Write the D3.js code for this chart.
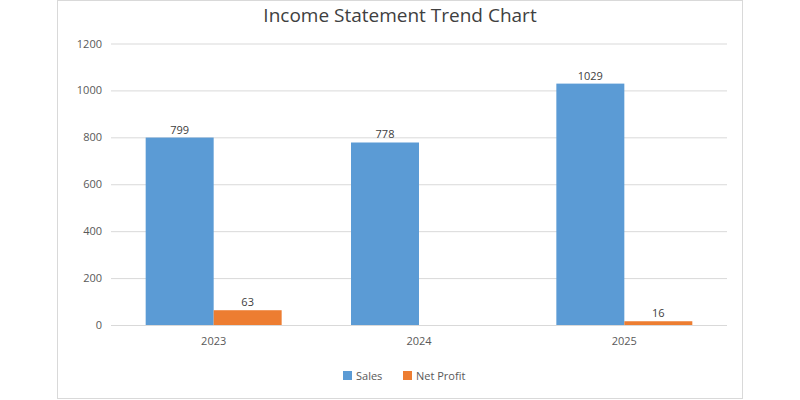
<!DOCTYPE html>
<html><head><meta charset="utf-8">
<script src="https://cdn.jsdelivr.net/npm/d3@7"></script>
<style>body{margin:0;background:#fff}svg{display:block}text{font-family:"Open Sans","DejaVu Sans",sans-serif}</style>
</head><body><svg id="c" width="800" height="400"></svg>
<script>
const categories = ["2023", "2024", "2025"];
const seriesNames = ["Sales", "Net Profit"];
const sales = [799, 778, 1029];
const netProfit = [63, null, 16];
const yTicks = [0, 200, 400, 600, 800, 1000, 1200];
const colors = ["#5B9BD5", "#ED7D31"];

const svg = d3.select("#c");
svg.append("rect").attr("x", 57.5).attr("y", 0.5).attr("width", 685).attr("height", 398)
  .attr("fill", "#fff").attr("stroke", "#d9d9d9");

const x0 = 111, x1 = 727, yb = 325, yt = 43.5;
const x = d3.scaleBand().domain(categories).range([x0, x1]).paddingInner(0).paddingOuter(0);
const xs = d3.scaleBand().domain(seriesNames).range([0, x.bandwidth()]).paddingOuter(0.51).paddingInner(0);
const y = d3.scaleLinear().domain([0, 1200]).range([yb, yt]);

const yAxis = d3.axisLeft(y).tickValues(yTicks).tickFormat(d3.format("d")).tickSize(-(x1 - x0)).tickPadding(9);
const g = svg.append("g").attr("transform", `translate(${x0},0)`).call(yAxis);
g.select(".domain").remove();
g.selectAll(".tick line").attr("stroke", "#d9d9d9").attr("stroke-width", 1);
g.selectAll(".tick text").attr("fill", "#595959").attr("font-size", 11).attr("x", -9);

const data = categories.map((c, i) => ({c, vals: [sales[i], netProfit[i]]}));
const grp = svg.append("g");
data.forEach(d => {
  d.vals.forEach((v, j) => {
    if (v == null) return;
    grp.append("rect")
      .attr("x", x(d.c) + xs(seriesNames[j]))
      .attr("y", y(v))
      .attr("width", xs.bandwidth())
      .attr("height", yb - y(v))
      .attr("fill", colors[j]);
    grp.append("text")
      .attr("x", x(d.c) + xs(seriesNames[j]) + xs.bandwidth() / 2)
      .attr("y", y(v) - 4)
      .attr("text-anchor", "middle")
      .attr("font-size", 11).attr("fill", "#404040")
      .text(v);
  });
});

const xAxis = d3.axisBottom(x).tickSize(0).tickPadding(12);
const gx = svg.append("g").attr("transform", `translate(0,${yb})`).call(xAxis);
gx.select(".domain").remove();
gx.selectAll(".tick text").attr("fill", "#595959").attr("font-size", 11);

svg.append("text").attr("x", 400).attr("y", 22).attr("text-anchor", "middle")
  .attr("font-size", 19).attr("fill", "#404040").text("Income Statement Trend Chart");

const legX = [343, 403];
seriesNames.forEach((n, i) => {
  svg.append("rect").attr("x", legX[i]).attr("y", 371).attr("width", 9).attr("height", 9).attr("fill", colors[i]);
  svg.append("text").attr("x", legX[i] + 13).attr("y", 379.5).attr("font-size", 11).attr("fill", "#595959").text(n);
});
</script></body></html>
